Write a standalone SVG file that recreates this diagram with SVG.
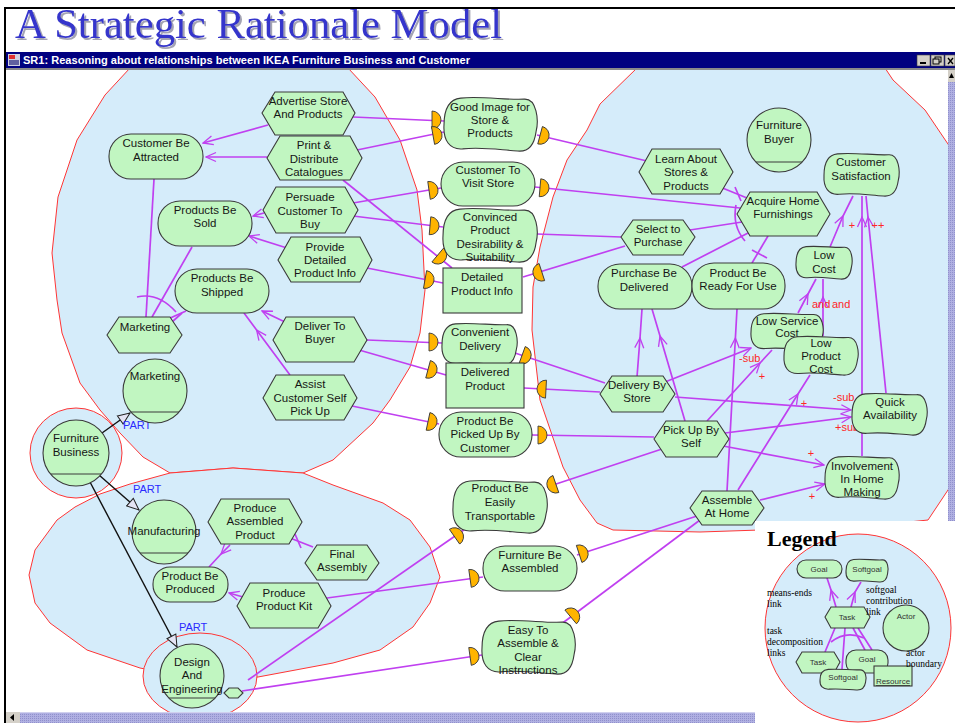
<svg xmlns="http://www.w3.org/2000/svg" width="955" height="723" viewBox="0 0 955 723">
<style>
.t,.red,.pt,.lt,.bar{font-family:"Liberation Sans",Arial,sans-serif}
.t{font-size:11.5px;fill:#161616;text-anchor:middle}
.n{fill:#c1f6c1;stroke:#3a3a3a;stroke-width:1.1}
.s{fill:#c1f6c1;stroke:#3a3a3a;stroke-width:1.1;vector-effect:non-scaling-stroke}
.b{fill:#d5ecfa;stroke:#ff3535;stroke-width:1}
.l{fill:none;stroke:#c040f0;stroke-width:1.7}
.k{fill:none;stroke:#111;stroke-width:1.4}
.d{fill:#ffb400;stroke:#3a3a3a;stroke-width:0.9}
.red{font-size:11px;fill:#ff2626}
.pt{font-size:11px;fill:#2a2aff}
.lg{font-family:"Liberation Serif","Times New Roman",serif;font-size:9.5px;fill:#000}
.title{font-family:"Liberation Serif","Times New Roman",serif;font-size:42px;fill:#3535cc}
.lgh{font-family:"Liberation Serif","Times New Roman",serif;font-size:22px;font-weight:bold;fill:#000}
.lt{font-size:8px;fill:#333;text-anchor:middle}
.bar{font-size:11px;font-weight:bold;fill:#fff}
</style>
<defs>
<marker id="a" viewBox="0 0 12 12" refX="11" refY="6" markerWidth="12" markerHeight="12" markerUnits="userSpaceOnUse" orient="auto"><path d="M1,1.5 L11,6 L1,10.5" fill="none" stroke="#c040f0" stroke-width="1.3"/></marker>
<marker id="p" viewBox="0 0 14 12" refX="13" refY="6" markerWidth="14" markerHeight="12" markerUnits="userSpaceOnUse" orient="auto"><path d="M1,1 L13,6 L1,11 Z" fill="#e4e4f4" stroke="#222" stroke-width="1"/></marker>
<path id="sg" class="s" d="M18,1 C40,-1 68,3 86,2 C100,1 102,22 99,32 C97,45 90,51 79,50 C60,49 42,46 20,48 C6,49 -1,40 0,26 C0,10 6,2 18,1 Z"/>
<path id="D" class="d" d="M-3,-9 A9,9 0 0 1 -3,9 Z"/>
<pattern id="dots" width="2" height="2" patternUnits="userSpaceOnUse"><rect width="2" height="2" fill="#b0b0e2"/><rect width="1" height="1" fill="#9090cc"/></pattern>
<filter id="sh" x="-5%" y="-20%" width="110%" height="140%"><feDropShadow dx="2" dy="2" stdDeviation="0.7" flood-color="#9a9aaa" flood-opacity="0.9"/></filter>
</defs>

<rect width="955" height="723" fill="#fff"/>

<!-- title -->
<text class="title" x="15" y="38" textLength="487" lengthAdjust="spacingAndGlyphs" filter="url(#sh)">A Strategic Rationale Model</text>

<!-- actor boundaries -->
<g id="boundaries">
<path class="b" d="M637,68 L600,104 L587,130 L567,160 L553,197 L540,247 L533,287 L532,330 L540,400 L563,467 L580,500 L597,523 L613,530 L700,532 L760,530 L880,525 L928,520 L950,487 L950,147 L925,110 L893,80 L885,68 Z"/>
<path class="b" d="M130,68 L105,95 L77,140 L58,197 L52,253 L57,300 L62,333 L80,383 L100,410 L120,433 L143,457 L170,473 L233,468 L303,473 L333,460 L373,423 L390,400 L410,367 L420,333 L425,290 L422,230 L417,190 L400,140 L375,97 L348,68 Z"/>
<path class="b" d="M170,473 L130,484 L100,494 L75,507 L57,520 L35,550 L29,575 L35,603 L50,623 L87,650 L140,668 L200,680 L258,677 L333,663 L380,650 L413,627 L430,603 L440,577 L430,547 L410,520 L383,503 L333,485 L303,473 L233,468 Z"/>
<ellipse class="b" cx="76" cy="453" rx="46" ry="45"/>
<ellipse class="b" cx="200" cy="676" rx="57" ry="43"/>
</g>

<!-- connectors -->
<g id="connectors">
<path class="k" d="M102,433 L130,413" marker-end="url(#p)"/>
<path class="k" d="M99,475 L139,510" marker-end="url(#p)"/>
<path class="k" d="M90,482 L177,647" marker-end="url(#p)"/>
<text class="pt" x="123" y="429">PART</text>
<text class="pt" x="133" y="493">PART</text>
<text class="pt" x="179" y="631">PART</text>

<path class="l" d="M268,125 L203,143" marker-end="url(#a)"/>
<path class="l" d="M267,157 L206,157" marker-end="url(#a)"/>
<path class="l" d="M264,213 L253,216" marker-end="url(#a)"/>
<path class="l" d="M287,248 L249,236" marker-end="url(#a)"/>
<path class="l" d="M285,322 L262,311" marker-end="url(#a)"/>
<path class="l" d="M290,375 L256.6,330 L244,313" marker-mid="url(#a)"/>
<path class="l" d="M154,179 L146,317"/>
<path class="l" d="M192,247 L152,317"/>
<path class="l" d="M186,311 L168,319"/>
<path class="l" d="M137,297 Q158,292 176,312" stroke-width="1"/>
<path class="l" d="M172,322 L182,313" stroke-width="1"/>

<path class="l" d="M290,538 L313,547"/>
<path class="l" d="M295,534 L301,548" stroke-width="1.2"/>
<path class="l" d="M230,545 L221,554 L209,567" marker-mid="url(#a)"/>
<path class="l" d="M243,597 L229,593" marker-end="url(#a)"/>

<path class="l" d="M353,117 L444,121"/>
<path class="l" d="M357,150 L444,132"/>
<path class="l" d="M537,135 L647,161"/>
<path class="l" d="M353,203 L441,188"/>
<path class="l" d="M535,187 L740,208"/>
<path class="l" d="M353,216 L443,227"/>
<path class="l" d="M343,180 L452,268"/>
<path class="l" d="M537,234 L621,237"/>
<path class="l" d="M367,268 L443,283"/>
<path class="l" d="M523,277 L625,246"/>
<path class="l" d="M367,340 L442,343"/>
<path class="l" d="M359,350 L446,375"/>
<path class="l" d="M515,353 L605,383"/>
<path class="l" d="M524,388 L600,392"/>
<path class="l" d="M352,406 L439,424"/>
<path class="l" d="M532,435 L654,437"/>
<path class="l" d="M547,487 L662,449"/>
<path class="l" d="M248,680 L468,527"/>
<path class="l" d="M242,691 L482,655"/>
<path class="l" d="M327,598 L483,577"/>
<path class="l" d="M577,555 L697,516"/>
<path class="l" d="M700,520 L560,625"/>

<path class="l" d="M720,187 L747,198"/>
<path class="l" d="M735,187 L741,201" stroke-width="1.2"/>
<path class="l" d="M690,230 L742,222"/>
<path class="l" d="M682,267 L750,232"/>
<path class="l" d="M752,263 L768,236"/>
<path class="l" d="M752,250 L767,258" stroke-width="1.2"/>
<path class="l" d="M736,205 Q732,226 745,241" stroke-width="1.1"/>

<path class="l" d="M830,247 L843,216 L853,196" marker-mid="url(#a)"/>
<path class="l" d="M862,456 L862,217 L862,196" marker-mid="url(#a)"/>
<path class="l" d="M886,393 L868,217 L866,196" marker-mid="url(#a)"/>
<path class="l" d="M798,313 L808,294 L816,279" marker-mid="url(#a)"/>
<path class="l" d="M823,336 L823,297 L823,279" marker-mid="url(#a)"/>
<path class="l" d="M637,377 L640,338 L642,309" marker-mid="url(#a)"/>
<path class="l" d="M685,421 L660,336 L652,309" marker-mid="url(#a)"/>
<path class="l" d="M727,491 L735.4,338 L737,309" marker-mid="url(#a)"/>
<path class="l" d="M665,382 L751,348" marker-end="url(#a)"/>
<path class="l" d="M707,421 L760,363 L772,350" marker-mid="url(#a)"/>
<path class="l" d="M675,397 L851,410" marker-end="url(#a)"/>
<path class="l" d="M725,433 L851,417" marker-end="url(#a)"/>
<path class="l" d="M723,446 L824,465" marker-end="url(#a)"/>
<path class="l" d="M760,500 L825,484" marker-end="url(#a)"/>
<path class="l" d="M738,490 L798,394 L810,375" marker-mid="url(#a)"/>

<text class="red" x="852" y="229" text-anchor="middle">+</text>
<text class="red" x="878" y="229" text-anchor="middle">++</text>
<text class="red" x="812" y="308">and</text>
<text class="red" x="832" y="308">and</text>
<text class="red" x="739" y="362">-sub</text>
<text class="red" x="762" y="380" text-anchor="middle">+</text>
<text class="red" x="833" y="401">-sub</text>
<text class="red" x="835" y="431">+sub</text>
<text class="red" x="804" y="407" text-anchor="middle">+</text>
<text class="red" x="811" y="457" text-anchor="middle">+</text>
<text class="red" x="812" y="500" text-anchor="middle">+</text>

<use href="#D" transform="translate(435,120)"/>
<use href="#D" transform="translate(436,135) rotate(-10)"/>
<use href="#D" transform="translate(543,136) rotate(15)"/>
<use href="#D" transform="translate(432,190) rotate(-8)"/>
<use href="#D" transform="translate(543,188) rotate(5)"/>
<use href="#D" transform="translate(433,226) rotate(5)"/>
<use href="#D" transform="translate(440,257) rotate(40)"/>
<use href="#D" transform="translate(428,280) rotate(10)"/>
<use href="#D" transform="translate(539,273) rotate(162)"/>
<use href="#D" transform="translate(432,342)"/>
<use href="#D" transform="translate(431,370) rotate(15)"/>
<use href="#D" transform="translate(525,356) rotate(20)"/>
<use href="#D" transform="translate(543,389) rotate(183)"/>
<use href="#D" transform="translate(431,422) rotate(12)"/>
<use href="#D" transform="translate(541,435)"/>
<use href="#D" transform="translate(553,485) rotate(161)"/>
<use href="#D" transform="translate(457,535) rotate(-35)"/>
<use href="#D" transform="translate(473,656) rotate(-8)"/>
<use href="#D" transform="translate(473,578) rotate(-8)"/>
<use href="#D" transform="translate(582,553) rotate(-18)"/>
<use href="#D" transform="translate(573,615) rotate(-40)"/>
</g>

<!-- nodes -->
<g id="n-advertise"><polygon class="n" points="262,113 275,92 343,92 355,113 343,135 275,135"/><text class="t"><tspan x="308" y="105">Advertise Store</tspan><tspan x="308" y="118">And Products</tspan></text></g>
<g id="n-print"><polygon class="n" points="267,158 280,136 350,136 362,158 350,180 280,180"/><text class="t"><tspan x="314" y="149">Print &amp;</tspan><tspan x="314" y="163">Distribute</tspan><tspan x="314" y="176">Catalogues</tspan></text></g>
<g id="n-persuade"><polygon class="n" points="263,210 276,187 345,187 358,210 345,233 276,233"/><text class="t"><tspan x="310" y="201">Persuade</tspan><tspan x="310" y="215">Customer To</tspan><tspan x="310" y="228">Buy</tspan></text></g>
<g id="n-provide"><polygon class="n" points="278,260 291,237 360,237 372,260 360,282 291,282"/><text class="t"><tspan x="325" y="251">Provide</tspan><tspan x="325" y="264">Detailed</tspan><tspan x="325" y="277">Product Info</tspan></text></g>
<g id="n-deliver"><polygon class="n" points="273,340 286,317 354,317 367,340 354,362 286,362"/><text class="t"><tspan x="320" y="330">Deliver To</tspan><tspan x="320" y="343">Buyer</tspan></text></g>
<g id="n-assist"><polygon class="n" points="263,398 276,375 344,375 357,398 344,420 276,420"/><text class="t"><tspan x="310" y="388">Assist</tspan><tspan x="310" y="402">Customer Self</tspan><tspan x="310" y="415">Pick Up</tspan></text></g>
<g id="n-marketing-task"><polygon class="n" points="107,335 119,317 170,317 182,335 170,353 119,353"/><text class="t" x="145" y="331">Marketing</text></g>
<g id="n-cba"><rect class="n" x="109" y="134" width="94" height="45" rx="22"/><text class="t"><tspan x="156" y="147">Customer Be</tspan><tspan x="156" y="161">Attracted</tspan></text></g>
<g id="n-pbsold"><rect class="n" x="158" y="201" width="94" height="45" rx="22"/><text class="t"><tspan x="205" y="214">Products Be</tspan><tspan x="205" y="227">Sold</tspan></text></g>
<g id="n-pbship"><rect class="n" x="175" y="269" width="94" height="44" rx="22"/><text class="t"><tspan x="222" y="282">Products Be</tspan><tspan x="222" y="296">Shipped</tspan></text></g>

<g id="a-marketing"><circle class="n" cx="155" cy="391" r="32"/><line x1="131" y1="412" x2="179" y2="412" stroke="#3a3a3a"/><text class="t" x="155" y="380">Marketing</text></g>
<g id="a-furniture-business"><circle class="n" cx="76" cy="453" r="33"/><line x1="51" y1="474" x2="101" y2="474" stroke="#3a3a3a"/><text class="t"><tspan x="76" y="442">Furniture</tspan><tspan x="76" y="456">Business</tspan></text></g>
<g id="a-manufacturing"><circle class="n" cx="164" cy="532" r="32"/><line x1="140" y1="553" x2="188" y2="553" stroke="#3a3a3a"/><text class="t" x="164" y="535">Manufacturing</text></g>
<g id="a-design"><circle class="n" cx="192" cy="676" r="32"/><line x1="169" y1="698" x2="215" y2="698" stroke="#3a3a3a"/><text class="t"><tspan x="192" y="666">Design</tspan><tspan x="192" y="679">And</tspan><tspan x="192" y="693">Engineering</tspan></text><polygon class="n" points="224,693 229,688 238,688 243,693 238,698 229,698"/></g>
<g id="a-furniture-buyer"><circle class="n" cx="779" cy="140" r="32"/><line x1="756" y1="162" x2="802" y2="162" stroke="#3a3a3a"/><text class="t"><tspan x="779" y="129">Furniture</tspan><tspan x="779" y="143">Buyer</tspan></text></g>

<g id="n-pap"><polygon class="n" points="208,522 221,499 289,499 302,522 289,544 221,544"/><text class="t"><tspan x="255" y="512">Produce</tspan><tspan x="255" y="525">Assembled</tspan><tspan x="255" y="539">Product</tspan></text></g>
<g id="n-final"><polygon class="n" points="305,563 317,545 367,545 379,563 367,580 317,580"/><text class="t"><tspan x="342" y="558">Final</tspan><tspan x="342" y="571">Assembly</tspan></text></g>
<g id="n-pbp"><rect class="n" x="153" y="567" width="75" height="35" rx="17"/><text class="t"><tspan x="190" y="580">Product Be</tspan><tspan x="190" y="593">Produced</tspan></text></g>
<g id="n-ppk"><polygon class="n" points="237,606 250,583 318,583 331,606 318,628 250,628"/><text class="t"><tspan x="284" y="597">Produce</tspan><tspan x="284" y="610">Product Kit</tspan></text></g>

<g id="n-good-image"><use href="#sg" transform="translate(444,97) scale(0.93,1.08)"/><text class="t"><tspan x="490" y="111">Good Image for</tspan><tspan x="490" y="124">Store &amp;</tspan><tspan x="490" y="137">Products</tspan></text></g>
<g id="n-ctvs"><rect class="n" x="441" y="162" width="94" height="44" rx="22"/><text class="t"><tspan x="488" y="174">Customer To</tspan><tspan x="488" y="187">Visit Store</tspan></text></g>
<g id="n-convinced"><use href="#sg" transform="translate(443,208) scale(0.94,1.08)"/><text class="t"><tspan x="490" y="221">Convinced</tspan><tspan x="490" y="234">Product</tspan><tspan x="490" y="248">Desirability &amp;</tspan><tspan x="490" y="261">Suitability</tspan></text></g>
<g id="n-dpi"><rect class="n" x="443" y="268" width="79" height="45"/><text class="t"><tspan x="482" y="281">Detailed</tspan><tspan x="482" y="295">Product Info</tspan></text></g>
<g id="n-conv-delivery"><use href="#sg" transform="translate(442,323) scale(0.75,0.84)"/><text class="t"><tspan x="480" y="336">Convenient</tspan><tspan x="480" y="350">Delivery</tspan></text></g>
<g id="n-delivered"><rect class="n" x="446" y="363" width="78" height="45"/><text class="t"><tspan x="485" y="376">Delivered</tspan><tspan x="485" y="390">Product</tspan></text></g>
<g id="n-pbpu"><rect class="n" x="439" y="412" width="93" height="45" rx="22"/><text class="t"><tspan x="485" y="425">Product Be</tspan><tspan x="485" y="438">Picked Up By</tspan><tspan x="485" y="452">Customer</tspan></text></g>
<g id="n-pbet"><use href="#sg" transform="translate(453,480) scale(0.94,1.06)"/><text class="t"><tspan x="500" y="492">Product Be</tspan><tspan x="500" y="506">Easily</tspan><tspan x="500" y="520">Transportable</tspan></text></g>
<g id="n-fba"><rect class="n" x="483" y="546" width="94" height="45" rx="22"/><text class="t"><tspan x="530" y="559">Furniture Be</tspan><tspan x="530" y="572">Assembled</tspan></text></g>
<g id="n-eta"><use href="#sg" transform="translate(482,620) scale(0.93,1.08)"/><text class="t"><tspan x="528" y="634">Easy To</tspan><tspan x="528" y="647">Assemble &amp;</tspan><tspan x="528" y="661">Clear</tspan><tspan x="528" y="674">Instructions</tspan></text></g>

<g id="n-learn"><polygon class="n" points="639,172 652,149 720,149 733,172 720,194 652,194"/><text class="t"><tspan x="686" y="163">Learn About</tspan><tspan x="686" y="176">Stores &amp;</tspan><tspan x="686" y="190">Products</tspan></text></g>
<g id="n-ahf"><polygon class="n" points="737,214 750,192 817,192 830,214 817,236 750,236"/><text class="t"><tspan x="783" y="205">Acquire Home</tspan><tspan x="783" y="218">Furnishings</tspan></text></g>
<g id="n-select"><polygon class="n" points="621,237 633,220 683,220 695,237 683,255 633,255"/><text class="t"><tspan x="658" y="233">Select to</tspan><tspan x="658" y="246">Purchase</tspan></text></g>
<g id="n-cs"><use href="#sg" transform="translate(824,153) scale(0.75,0.86)"/><text class="t"><tspan x="861" y="166">Customer</tspan><tspan x="861" y="180">Satisfaction</tspan></text></g>
<g id="n-pbd"><rect class="n" x="598" y="264" width="94" height="45" rx="22"/><text class="t"><tspan x="644" y="277">Purchase Be</tspan><tspan x="644" y="291">Delivered</tspan></text></g>
<g id="n-pbrfu"><rect class="n" x="692" y="263" width="93" height="46" rx="22"/><text class="t"><tspan x="738" y="277">Product Be</tspan><tspan x="738" y="290">Ready For Use</tspan></text></g>
<g id="n-lowcost"><use href="#sg" transform="translate(796,246) scale(0.56,0.66)"/><text class="t"><tspan x="824" y="259">Low</tspan><tspan x="824" y="273">Cost</tspan></text></g>
<g id="n-lsc"><use href="#sg" transform="translate(751,313) scale(0.72,0.74)"/><text class="t"><tspan x="787" y="325">Low Service</tspan><tspan x="787" y="337">Cost</tspan></text></g>
<g id="n-lpc"><use href="#sg" transform="translate(784,336) scale(0.74,0.78)"/><text class="t"><tspan x="821" y="347">Low</tspan><tspan x="821" y="360">Product</tspan><tspan x="821" y="373">Cost</tspan></text></g>
<g id="n-dbs"><polygon class="n" points="600,394 612,376 663,376 675,394 663,412 612,412"/><text class="t"><tspan x="637" y="389">Delivery By</tspan><tspan x="637" y="402">Store</tspan></text></g>
<g id="n-pubs"><polygon class="n" points="654,439 666,421 717,421 729,439 717,457 666,457"/><text class="t"><tspan x="691" y="434">Pick Up By</tspan><tspan x="691" y="447">Self</tspan></text></g>
<g id="n-qa"><use href="#sg" transform="translate(852,393) scale(0.75,0.84)"/><text class="t"><tspan x="890" y="406">Quick</tspan><tspan x="890" y="419">Availability</tspan></text></g>
<g id="n-ihm"><use href="#sg" transform="translate(825,456) scale(0.74,0.86)"/><text class="t"><tspan x="862" y="470">Involvement</tspan><tspan x="862" y="483">In Home</tspan><tspan x="862" y="496">Making</tspan></text></g>
<g id="n-aah"><polygon class="n" points="690,508 702,491 752,491 764,508 752,525 702,525"/><text class="t"><tspan x="727" y="504">Assemble</tspan><tspan x="727" y="517">At Home</tspan></text></g>

<!-- window chrome -->
<rect x="5" y="52" width="950" height="16" fill="#000080"/>
<rect x="8" y="54" width="12" height="12" fill="#d0d0e0"/>
<rect x="9" y="55" width="6" height="4" fill="#e03030"/>
<rect x="9" y="60" width="10" height="5" fill="#6060a0"/>
<text class="bar" x="23" y="64" textLength="447" lengthAdjust="spacingAndGlyphs">SR1: Reasoning about relationships between IKEA Furniture Business and Customer</text>
<rect x="917" y="55" width="13" height="11" fill="#d4d0c8" stroke="#404040" stroke-width="0.6"/>
<rect x="920" y="62" width="6" height="2" fill="#000"/>
<rect x="931" y="55" width="13" height="11" fill="#d4d0c8" stroke="#404040" stroke-width="0.6"/>
<rect x="935" y="57" width="6" height="5" fill="none" stroke="#000"/>
<rect x="933" y="59" width="6" height="5" fill="#d4d0c8" stroke="#000"/>
<rect x="945" y="55" width="10" height="11" fill="#d4d0c8" stroke="#404040" stroke-width="0.6"/>
<path d="M948,58 L953,64 M953,58 L948,64" stroke="#000" stroke-width="1.3"/>
<rect x="5" y="68" width="950" height="2" fill="#8a8a8a"/>
<rect x="948" y="70" width="7" height="452" fill="url(#dots)"/>
<rect x="948" y="70" width="7" height="12" fill="#d4d0c8"/>
<path d="M951.5,73 L954,78 L949,78 Z" fill="#000"/>
<rect x="6" y="712" width="750" height="11" fill="url(#dots)"/>
<rect x="6" y="712" width="750" height="1" fill="#d0d0ee"/>
<rect x="6" y="712" width="14" height="11" fill="#d4d0c8"/>
<path d="M10,717.5 L14,714 L14,721 Z" fill="#000"/>
<rect x="4" y="7" width="951" height="2" fill="#000"/>
<rect x="4" y="7" width="2" height="716" fill="#000"/>

<!-- legend -->
<g id="legend">
<rect x="755" y="521" width="200" height="202" fill="#fff"/>
<ellipse class="b" cx="858" cy="628" rx="93" ry="94"/>
<text class="lgh" x="767" y="546">Legend</text>
<path class="l" d="M836,607 L831,590 L827,578" marker-mid="url(#a)" stroke-width="1.4"/>
<path class="l" d="M851,607 L855,592 L861,582" marker-mid="url(#a)" stroke-width="1.4"/>
<path class="l" d="M835,628 L825,652 M845,628 L842,669 M853,628 L865,650 M858,628 L872,650" stroke-width="1.4"/>
<path class="l" d="M831,642 Q846,630 864,638" stroke-width="1"/>
<rect class="n" x="797" y="560" width="45" height="18" rx="9"/><text class="lt" x="819" y="572">Goal</text>
<use href="#sg" transform="translate(846,559) scale(0.42,0.46)"/><text class="lt" x="867" y="572">Softgoal</text>
<polygon class="n" points="825,617 831,607 864,607 870,617 864,628 831,628"/><text class="lt" x="847" y="620">Task</text>
<circle class="n" cx="906" cy="628" r="23"/><text class="lt" x="906" y="619">Actor</text>
<polygon class="n" points="796,662 802,652 834,652 840,662 834,673 802,673"/><text class="lt" x="818" y="665">Task</text>
<rect class="n" x="846" y="650" width="42" height="23" rx="10"/><text class="lt" x="867" y="662">Goal</text>
<rect class="n" x="874" y="666" width="38" height="20"/><text class="lt" x="893" y="684" text-decoration="underline">Resource</text>
<use href="#sg" transform="translate(820,669) scale(0.46,0.42)"/><text class="lt" x="843" y="680">Softgoal</text>
<text class="lg"><tspan x="767" y="596">means-ends</tspan><tspan x="767" y="607">link</tspan></text>
<text class="lg"><tspan x="866" y="593">softgoal</tspan><tspan x="866" y="604">contribution</tspan><tspan x="866" y="615">link</tspan></text>
<text class="lg"><tspan x="767" y="634">task</tspan><tspan x="767" y="645">decomposition</tspan><tspan x="767" y="656">links</tspan></text>
<text class="lg"><tspan x="906" y="656">actor</tspan><tspan x="906" y="667">boundary</tspan></text>
</g>
</svg>
